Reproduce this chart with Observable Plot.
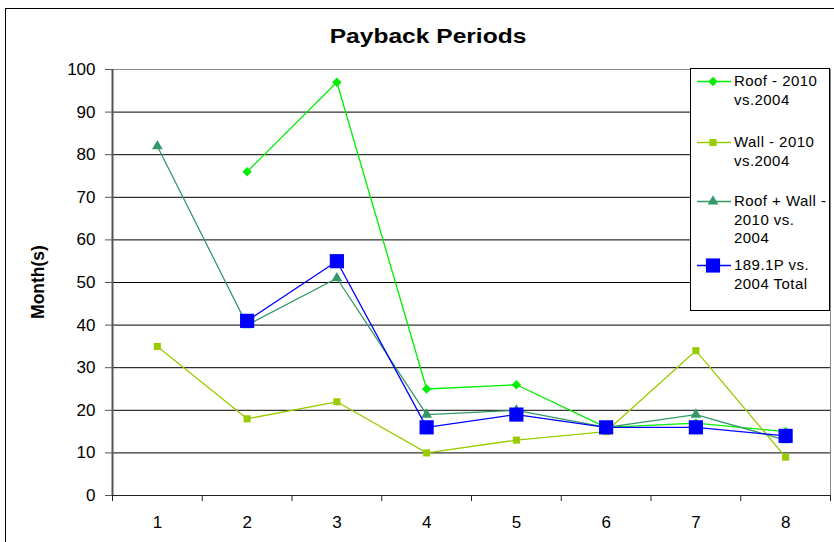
<!DOCTYPE html>
<html>
<head>
<meta charset="utf-8">
<script src="https://cdn.jsdelivr.net/npm/d3@7"></script>
<script src="https://cdn.jsdelivr.net/npm/@observablehq/plot@0.6"></script>
<style>
  html, body { margin: 0; padding: 0; background: #fff; }
  #wrap { position: relative; width: 834px; height: 542px; overflow: hidden; font-family: "Liberation Sans", Arial, sans-serif; }
  #frame { position: absolute; left: 5px; top: 8px; width: 900px; height: 600px; border: 1px solid #000; box-sizing: border-box; }
  #title { position: absolute; left: 0; width: 856px; top: 25px; text-align: center; }
  #title span { display: inline-block; font-weight: bold; font-size: 19.5px; color: #000; transform: scaleX(1.26); }
  #ylab { position: absolute; left: 38px; top: 282px; transform: translate(-50%, -50%) rotate(-90deg); font-weight: bold; font-size: 17.5px; white-space: nowrap; }
  #chart { position: absolute; left: 0; top: 0; }
  #legend { position: absolute; left: 690px; top: 68px; width: 140px; height: 243px; background: #fff; border: 1px solid #000; box-sizing: border-box; overflow: hidden; }
  .entry { position: absolute; left: 5px; font-size: 15px; line-height: 18.5px; color: #000; white-space: nowrap; }
  .entry svg { position: absolute; left: 0; top: 0; }
  .entry span { position: absolute; left: 38px; top: 0; letter-spacing: 0.45px; }
</style>
</head>
<body>
<div id="wrap">
  <div id="frame"></div>
  <div id="chart"></div>
  <div id="title"><span>Payback Periods</span></div>
  <div id="ylab">Month(s)</div>
  <div id="legend"></div>
</div>
<script>
// Data
const categories = [1, 2, 3, 4, 5, 6, 7, 8];
const roof      = [null, 76, 97, 25, 26, 16, 17, 15];
const wall      = [35, 18, 22, 10, 13, 15, 34, 9];
const roofWall  = [82, 40, 51, 19, 20, 16, 19, 13];
const total1891 = [null, 41, 55, 16, 19, 16, 16, 14];
const seriesNames = ["Roof - 2010 vs.2004", "Wall - 2010 vs.2004", "Roof + Wall - 2010 vs. 2004", "189.1P vs. 2004 Total"];
const yTicks = [0, 10, 20, 30, 40, 50, 60, 70, 80, 90, 100];

const series = [
  {name: seriesNames[0], values: roof,      color: "#00ee00", symbol: "diamond2", r: 4.2},
  {name: seriesNames[1], values: wall,      color: "#99cc00", symbol: "square",   r: 4.0},
  {name: seriesNames[2], values: roofWall,  color: "#339966", symbol: "triangle", r: 4.0},
  {name: seriesNames[3], values: total1891, color: "#0000ff", symbol: "square",   r: 8.0}
];

const boundaries = categories.map(c => c - 0.5).concat([categories[categories.length - 1] + 0.5]);

const marks = [
  Plot.ruleY(yTicks.filter(v => v > 0 && v < 100), {stroke: "#000", strokeWidth: 1}),
  Plot.frame({stroke: "#888"}),
  Plot.ruleX([boundaries[0]], {stroke: "#555", strokeWidth: 2}),
  Plot.ruleY([0], {stroke: "#222", strokeWidth: 1}),
  Plot.axisY(yTicks, {tickSize: 7, tickPadding: 10, fontSize: 17, stroke: "#555", label: null, tickFormat: d => String(d)}),
  Plot.axisX(boundaries, {tickSize: 6, tickFormat: () => "", stroke: "#222", label: null}),
  Plot.axisX(categories, {tickSize: 0, tickPadding: 20, fontSize: 17, label: null, tickFormat: d => String(d)})
];

for (const s of series) {
  const data = categories.map((c, i) => ({x: c, y: s.values[i]})).filter(d => d.y != null);
  marks.push(Plot.line(data, {x: "x", y: "y", stroke: s.color, strokeWidth: 1.3}));
  marks.push(Plot.dot(data, {x: "x", y: "y", fill: s.color, stroke: "none", symbol: s.symbol, r: s.r}));
}

const chart = Plot.plot({
  width: 834,
  height: 542,
  marginLeft: 112,
  marginRight: 4,
  marginTop: 69,
  marginBottom: 47,
  style: {background: "transparent", fontFamily: "'Liberation Sans', Arial, sans-serif", color: "#000"},
  x: {type: "linear", domain: [boundaries[0], boundaries[boundaries.length - 1]], axis: null},
  y: {domain: [0, 100], axis: null},
  marks
});
document.getElementById("chart").appendChild(chart);

// Legend (HTML)
const legendLines = [
  ["Roof - 2010", "vs.2004"],
  ["Wall - 2010", "vs.2004"],
  ["Roof + Wall -", "2010 vs.", "2004"],
  ["189.1P vs.", "2004 Total"]
];
const legendTops = [3, 64, 123, 187];
const legend = document.getElementById("legend");
series.forEach((s, i) => {
  const e = document.createElement("div");
  e.className = "entry";
  e.style.top = legendTops[i] + "px";
  const sw = d3.create("svg").attr("width", 36).attr("height", 19);
  sw.append("line").attr("x1", 1).attr("x2", 35).attr("y1", 9.5).attr("y2", 9.5).attr("stroke", s.color).attr("stroke-width", 1.3);
  const symMap = {diamond2: d3.symbolDiamond2, square: d3.symbolSquare, triangle: d3.symbolTriangle};
  sw.append("path").attr("transform", "translate(17,9.5)")
    .attr("d", d3.symbol(symMap[s.symbol], Math.PI * s.r * s.r)())
    .attr("fill", s.color);
  e.appendChild(sw.node());
  const sp = document.createElement("span");
  sp.innerHTML = legendLines[i].join("<br>");
  e.appendChild(sp);
  legend.appendChild(e);
});
</script>
</body>
</html>
